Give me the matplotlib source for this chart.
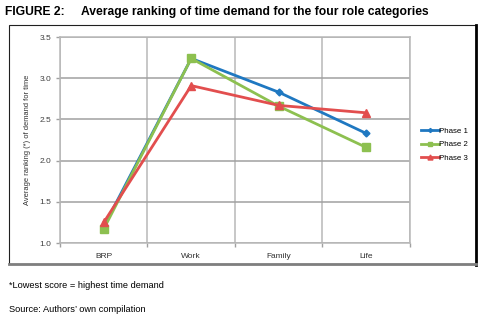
import numpy as np
import matplotlib.pyplot as plt
from matplotlib.patches import Rectangle

plt.rcParams['font.family'] = ['Liberation Sans', 'DejaVu Sans']

# Data
categories = ['BRP', 'Work', 'Family', 'Life']
phase1 = [1.20, 3.24, 2.83, 2.33]
phase2 = [1.17, 3.24, 2.66, 2.16]
phase3 = [1.25, 2.91, 2.67, 2.58]
y_ticks = [1.0, 1.5, 2.0, 2.5, 3.0, 3.5]

W, H = 485, 320
fig = plt.figure(figsize=(W / 100, H / 100), dpi=100)

# frame around the chart area
fig.patches.append(Rectangle((9.5 / W, 1 - 263.5 / H), 466.5 / W, 238.5 / H,
                             transform=fig.transFigure, fill=False,
                             edgecolor='#202020', lw=0.8))
# heavier right / bottom edges
fig.add_artist(plt.Line2D([476 / W, 476 / W], [1 - 25 / H, 1 - 264.5 / H],
                          transform=fig.transFigure, color='black', lw=2))
fig.add_artist(plt.Line2D([9.5 / W, 476 / W], [1 - 264 / H, 1 - 264 / H],
                          transform=fig.transFigure, color='#7f7f7f', lw=2))

ax = fig.add_axes([60 / W, 1 - 243 / H, 350 / W, 206 / H])
x = np.arange(len(categories))

ax.plot(x, phase1, color='#1f78c1', lw=2, marker='D', ms=3.5, label='Phase 1', zorder=3)
ax.plot(x, phase2, color='#8dc050', lw=2, marker='s', ms=6, label='Phase 2', zorder=4)
ax.plot(x, phase3, color='#e24e4e', lw=2, marker='^', ms=6, label='Phase 3', zorder=5)

ax.set_xlim(-0.5, len(categories) - 0.5)
ax.set_ylim(1.0, 3.5)
ax.set_yticks(y_ticks)
ax.set_yticklabels([f'{v:.1f}' for v in y_ticks], fontsize=6, color='#404040')
ax.set_xticks(x)
ax.set_xticklabels(categories, fontsize=6, color='#303030')
ax.tick_params(axis='x', length=0, pad=7)
ax.set_xticks(np.arange(-0.5, len(categories)), minor=True)
ax.tick_params(axis='x', which='minor', length=3, color='#a0a0a0', width=1)
ax.tick_params(axis='y', length=3, color='#a0a0a0', width=1, pad=3)

ax.grid(True, axis='y', color='#a0a0a0', lw=1.1)
ax.grid(True, axis='x', which='minor', color='#b8b8b8', lw=1.1)
for s in ax.spines.values():
    s.set_color('#b8b8b8')
    s.set_linewidth(1.1)
ax.set_axisbelow(True)

ax.set_ylabel('Average ranking (*) of demand for time', fontsize=5.4, color='#303030', labelpad=6)

ax.legend(loc='center left', bbox_to_anchor=(1.015, 0.478), frameon=False,
          fontsize=5.7, handlelength=2.3, handletextpad=0.05, labelspacing=0.75,
          markerscale=0.6, borderaxespad=0.3)

fig.text(5 / W, 1 - 12 / H, 'FIGURE 2:     Average ranking of time demand for the four role categories',
         fontsize=8.7, fontweight='bold', va='center', ha='left')
fig.text(9 / W, 1 - 285 / H, '*Lowest score = highest time demand', fontsize=6.7,
         va='center', ha='left')
fig.text(9 / W, 1 - 310 / H, "Source: Authors\u2019 own compilation", fontsize=6.7,
         va='center', ha='left')

fig.savefig('out.png', dpi=100)
